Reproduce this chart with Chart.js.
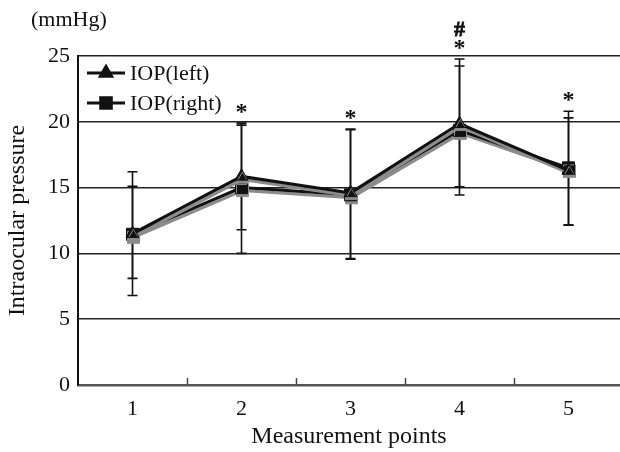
<!DOCTYPE html>
<html>
<head>
<meta charset="utf-8">
<script src="https://cdn.jsdelivr.net/npm/chart.js@4.4.1/dist/chart.umd.min.js"></script>
<style>
  html, body { margin: 0; padding: 0; background: #fff; }
  #wrap { position: relative; width: 620px; height: 452px; }
  canvas { display: block; }
</style>
</head>
<body>
<div id="wrap"><canvas id="c" width="620" height="452"></canvas></div>
<script>
// ---- data ----
const categories = [1, 2, 3, 4, 5];
const xLabels = ['1', '2', '3', '4', '5'];
const seriesNames = ['IOP(left)', 'IOP(right)'];
const iopLeft  = [11.5, 15.85, 14.6, 19.85, 16.3];
const iopRight = [11.45, 15.0, 14.45, 19.35, 16.5];
const leftHi  = [15.1, 19.9, 19.45, 24.77, 20.3];
const leftLo  = [8.1, 11.8, 9.6, 15.07, 12.15];
const rightHi = [16.2, 19.75, 19.4, 24.24, 20.8];
const rightLo = [6.8, 10.0, 9.55, 14.44, 12.15];
const marks = ['', '*', '*', '*', '*'];
const marks2 = ['', '', '', '#', ''];
const yTicks = [0, 5, 10, 15, 20, 25];

const SERIF = '"Liberation Serif", "Times New Roman", serif';

const errHi = [leftHi, rightHi];
const errLo = [leftLo, rightLo];

const shadowPlugin = {
  id: 'shadow',
  beforeDatasetDraw(chart) {
    const ctx = chart.ctx;
    ctx.save();
    ctx.shadowColor = 'rgba(140,140,140,1)';
    ctx.shadowOffsetX = 1;
    ctx.shadowOffsetY = 3;
    ctx.shadowBlur = 0;
  },
  afterDatasetDraw(chart) {
    chart.ctx.restore();
  }
};

const errorBarPlugin = {
  id: 'errorBars',
  beforeDatasetsDraw(chart) {
    const ctx = chart.ctx;
    const ys = chart.scales.y;
    ctx.save();
    ctx.strokeStyle = '#111';
    ctx.lineWidth = 1.6;
    chart.data.datasets.forEach((ds, i) => {
      const meta = chart.getDatasetMeta(i);
      meta.data.forEach((pt, j) => {
        const x = pt.x;
        const yh = ys.getPixelForValue(errHi[i][j]);
        const yl = ys.getPixelForValue(errLo[i][j]);
        ctx.beginPath();
        ctx.moveTo(x, yh); ctx.lineTo(x, yl);
        ctx.moveTo(x - 5, yh); ctx.lineTo(x + 5, yh);
        ctx.moveTo(x - 5, yl); ctx.lineTo(x + 5, yl);
        ctx.stroke();
      });
    });
    ctx.restore();
  },
  afterDatasetsDraw(chart) {
    const ctx = chart.ctx;
    const ys = chart.scales.y;
    const xs = chart.scales.x;
    ctx.save();
    ctx.fillStyle = '#111';
    ctx.textAlign = 'center';
    ctx.textBaseline = 'alphabetic';
    categories.forEach((c, j) => {
      const x = xs.getPixelForValue(c);
      const top = ys.getPixelForValue(Math.max(leftHi[j], rightHi[j]));
      if (marks[j]) {
        ctx.font = 'bold 24px ' + SERIF;
        ctx.fillText(marks[j], x, top - 4);
      }
      if (marks2[j]) {
        ctx.font = 'bold 22px ' + SERIF;
        ctx.lineWidth = 0.8;
        ctx.strokeStyle = '#111';
        ctx.fillText(marks2[j], x, top - 23);
        ctx.strokeText(marks2[j], x, top - 23);
      }
    });
    // inward x tick marks between categories
    ctx.strokeStyle = '#444';
    ctx.lineWidth = 1.5;
    const b = chart.chartArea.bottom;
    for (let k = 0; k < categories.length - 1; k++) {
      const x = Math.round(xs.getPixelForValue(categories[k] + 0.5)) + 0.5;
      ctx.beginPath();
      ctx.moveTo(x, b); ctx.lineTo(x, b - 7);
      ctx.stroke();
    }
    ctx.restore();
  },
  afterDraw(chart) {
    const ctx = chart.ctx;
    const ca = chart.chartArea;
    ctx.save();
    // legend
    chart.data.datasets.forEach((ds, i) => {
      const y = ca.top + 17 + i * 30;
      const x0 = ca.left + 9;
      ctx.strokeStyle = '#111';
      ctx.lineWidth = 3;
      ctx.beginPath();
      ctx.moveTo(x0, y); ctx.lineTo(x0 + 38, y);
      ctx.stroke();
      ctx.fillStyle = '#111';
      Chart.helpers.drawPoint(ctx, {
        pointStyle: ds.pointStyle, radius: ds.pointRadius - 1, rotation: 0, borderWidth: 1
      }, x0 + 19, y);
      ctx.font = '22px ' + SERIF;
      ctx.textAlign = 'left';
      ctx.textBaseline = 'middle';
      ctx.fillText(ds.label, x0 + 43, y + 1);
    });
    // unit label
    ctx.font = '22px ' + SERIF;
    ctx.textAlign = 'left';
    ctx.textBaseline = 'middle';
    ctx.fillStyle = '#111';
    ctx.fillText('(mmHg)', 31, 20);
    ctx.restore();
  }
};

const mk = arr => arr.map((v, i) => ({ x: categories[i], y: v }));

new Chart(document.getElementById('c'), {
  type: 'line',
  data: {
    datasets: [
      {
        label: seriesNames[0], data: mk(iopLeft),
        borderColor: '#111', backgroundColor: '#111', borderWidth: 3,
        pointStyle: 'triangle', pointRadius: 7.5, pointBorderWidth: 1, tension: 0
      },
      {
        label: seriesNames[1], data: mk(iopRight),
        borderColor: '#111', backgroundColor: '#111', borderWidth: 3,
        pointStyle: 'rect', pointRadius: 8.5, pointBorderWidth: 1, tension: 0
      }
    ]
  },
  options: {
    responsive: false,
    animation: false,
    events: [],
    layout: { autoPadding: false, padding: { top: 56, right: 0, left: 0, bottom: 0 } },
    plugins: { legend: { display: false }, tooltip: { enabled: false } },
    scales: {
      x: {
        type: 'linear', min: 0.5, max: 0.5 + 542 / 109,
        afterBuildTicks: s => { s.ticks = categories.map(v => ({ value: v })); },
        afterFit: s => { s.height = 67; },
        ticks: {
          callback: (v) => xLabels[categories.indexOf(v)] ?? '',
          font: { family: SERIF, size: 22 }, color: '#111', padding: 11, maxRotation: 0
        },
        grid: { display: false, drawTicks: false },
        border: { display: true, color: '#555', width: 2.5 },
        title: {
          display: true, text: 'Measurement points', color: '#111',
          font: { family: SERIF, size: 24 }, padding: { top: 0, bottom: 1 }
        }
      },
      y: {
        min: 0, max: 25,
        afterBuildTicks: s => { s.ticks = yTicks.map(v => ({ value: v })); },
        afterFit: s => { s.width = 78; },
        ticks: { font: { family: SERIF, size: 22 }, color: '#111', padding: 8 },
        grid: { color: '#222', lineWidth: 1.5, drawTicks: false },
        border: { display: true, color: '#111', width: 2 },
        title: {
          display: true, text: 'Intraocular pressure', color: '#111',
          font: { family: SERIF, size: 24 }, padding: { top: 3, bottom: 0 }
        }
      }
    }
  },
  plugins: [shadowPlugin, errorBarPlugin]
});
</script>
</body>
</html>
